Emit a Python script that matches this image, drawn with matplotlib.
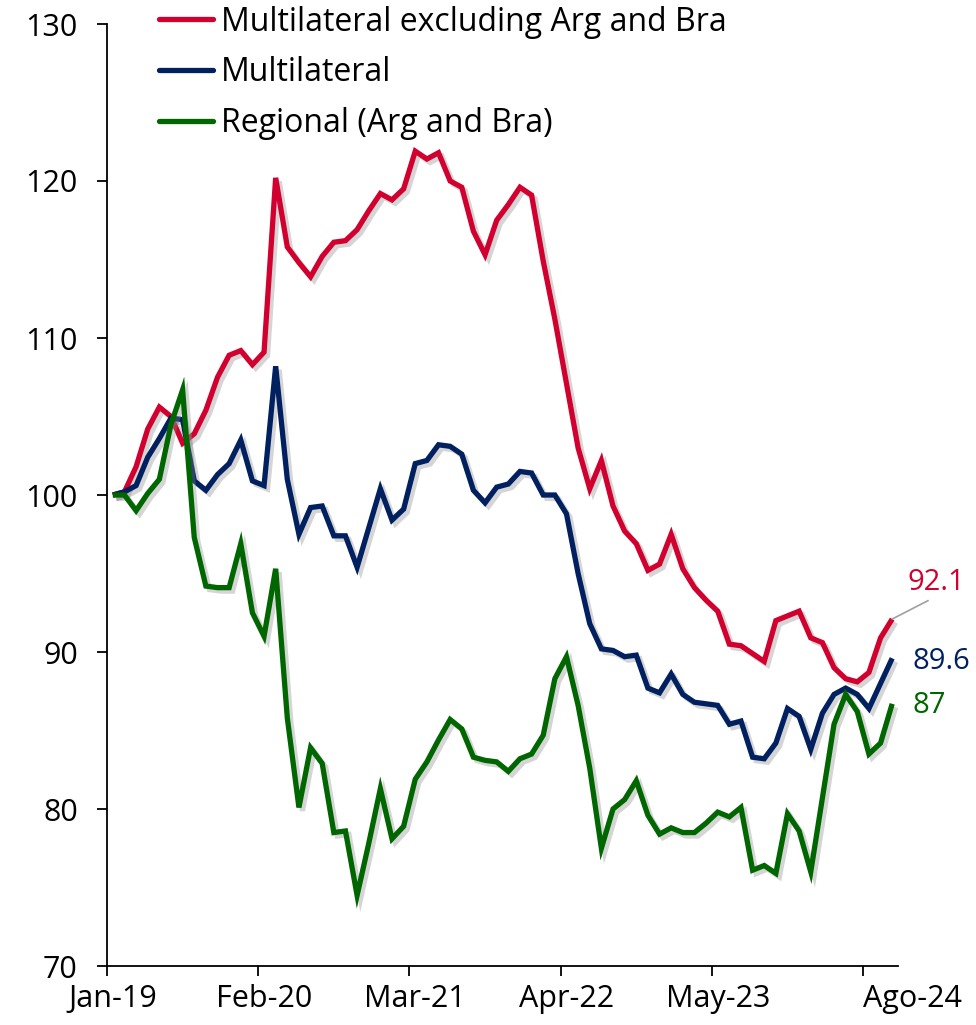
import matplotlib
matplotlib.use("Agg")
import matplotlib.pyplot as plt
import matplotlib.patheffects as pe
from matplotlib.transforms import offset_copy

plt.rcParams['font.family'] = ['Open Sans', 'DejaVu Sans']

# monthly index, Jan-19 .. Aug-24 (68 points)
multi_ex = [100, 100.2, 101.8, 104.2, 105.6, 105.0, 103.3, 103.9, 105.4, 107.5,
            108.9, 109.2, 108.3, 109.1, 120.2, 115.8, 114.8, 113.9, 115.2, 116.1,
            116.2, 116.9, 118.1, 119.2, 118.8, 119.5, 121.9, 121.4, 121.8, 120.0,
            119.6, 116.8, 115.3, 117.5, 118.5, 119.6, 119.1, 114.9, 111.2, 107.1,
            103.0, 100.4, 102.2, 99.3, 97.7, 96.9, 95.2, 95.6, 97.5, 95.3,
            94.1, 93.3, 92.6, 90.5, 90.4, 89.9, 89.4, 92.0, 92.3, 92.6,
            90.9, 90.6, 89.0, 88.3, 88.1, 88.7, 90.9, 92.1]
multi = [100, 100.2, 100.6, 102.4, 103.6, 104.9, 104.8, 100.9, 100.3, 101.3,
         102.0, 103.5, 100.9, 100.6, 108.2, 101.0, 97.5, 99.2, 99.3, 97.4,
         97.4, 95.4, 97.9, 100.4, 98.4, 99.1, 102.0, 102.2, 103.2, 103.1,
         102.6, 100.3, 99.5, 100.5, 100.7, 101.5, 101.4, 100.0, 100.0, 98.8,
         95.0, 91.8, 90.2, 90.1, 89.7, 89.8, 87.7, 87.4, 88.6, 87.3,
         86.8, 86.7, 86.6, 85.4, 85.6, 83.3, 83.2, 84.2, 86.4, 85.9,
         83.8, 86.1, 87.3, 87.7, 87.3, 86.4, 88.0, 89.6]
regional = [100, 100.0, 99.0, 100.1, 101.0, 104.5, 106.7, 97.3, 94.2, 94.1,
            94.1, 96.9, 92.5, 91.0, 95.3, 85.8, 80.1, 83.9, 82.9, 78.5,
            78.6, 74.5, 77.8, 81.3, 78.1, 78.9, 81.9, 83.0, 84.4, 85.7,
            85.1, 83.3, 83.1, 83.0, 82.4, 83.2, 83.5, 84.7, 88.3, 89.7,
            86.6, 82.6, 77.5, 80.0, 80.6, 81.8, 79.6, 78.4, 78.8, 78.5,
            78.5, 79.1, 79.8, 79.5, 80.1, 76.1, 76.4, 75.9, 79.7, 78.6,
            76.0, 80.7, 85.4, 87.3, 86.2, 83.5, 84.2, 86.7]

series_names = ['Multilateral excluding Arg and Bra', 'Multilateral', 'Regional (Arg and Bra)']
colors = ['#D2002E', '#002060', '#006600']
end_labels = ['92.1', '89.6', '87']
tick_pos = [0, 13, 26, 39, 52]
tick_labels = ['Jan-19', 'Feb-20', 'Mar-21', 'Apr-22', 'May-23']
last_label = 'Ago-24'

FS = 22

fig = plt.figure(figsize=(9.76, 10.25), dpi=100)
ax = fig.add_axes([107 / 976, 1 - 966 / 1025, (898 - 107) / 976, (966 - 24) / 1025])

x = list(range(len(multi)))
shadow = [pe.SimpleLineShadow(offset=(2.5, -2.5), shadow_color='#888888', alpha=0.35),
          pe.Normal()]
for ys, name, c in zip([multi_ex, multi, regional], series_names, colors):
    ax.plot(x, ys, color=c, lw=3.8, label=name, solid_joinstyle='miter',
            solid_capstyle='butt', path_effects=shadow)

ax.set_xlim(-0.5, len(multi) - 0.5)
ax.set_ylim(70, 130)
ax.set_yticks(range(70, 131, 10))
ax.set_yticklabels([str(v) for v in range(70, 131, 10)])

# tick marks between categories, labels centred on months
ax.set_xticks([p - 0.5 for p in range(0, 66, 13)])
ax.set_xticklabels([])
ax.set_xticks(tick_pos, minor=True)
ax.set_xticklabels(tick_labels, minor=True)
ax.tick_params(axis='x', which='major', length=7, width=1.3, direction='out')
ax.tick_params(axis='x', which='minor', length=0, pad=13, labelsize=FS)
ax.tick_params(axis='y', length=7, width=1.3, pad=14, labelsize=FS)

tr = offset_copy(ax.get_xaxis_transform(), fig=fig, y=-13, units='points')
ax.text(64.5, 0, last_label, transform=tr, ha='left', va='top', fontsize=FS)

for s in ['top', 'right']:
    ax.spines[s].set_visible(False)
for s in ['left', 'bottom']:
    ax.spines[s].set_linewidth(1.3)

# end-of-line labels
last = len(multi) - 1
ax.annotate(end_labels[0], xy=(last, multi_ex[-1]), xytext=(15, 37),
            textcoords='offset pixels', ha='left', va='center', fontsize=21,
            color=colors[0],
            arrowprops=dict(arrowstyle='-', color='#A0A0A0', lw=1.2,
                            relpos=(0.5, 0), shrinkA=2, shrinkB=0))
ax.annotate(end_labels[1], xy=(last, multi[-1]), xytext=(20, -3),
            textcoords='offset pixels', ha='left', va='center', fontsize=21,
            color=colors[1])
ax.annotate(end_labels[2], xy=(last, regional[-1]), xytext=(20, -2),
            textcoords='offset pixels', ha='left', va='center', fontsize=21,
            color=colors[2])

leg = ax.legend(loc='upper left', bbox_to_anchor=(157 / 976, 1 - 4 / 1025),
                bbox_transform=fig.transFigure, frameon=False, fontsize=23,
                handlelength=1.7, handletextpad=0.25, labelspacing=0.55,
                borderaxespad=0, borderpad=0.05)
for h in leg.get_lines():
    h.set_path_effects([])
    h.set_solid_capstyle('round')

fig.savefig('out.png', dpi=100)
